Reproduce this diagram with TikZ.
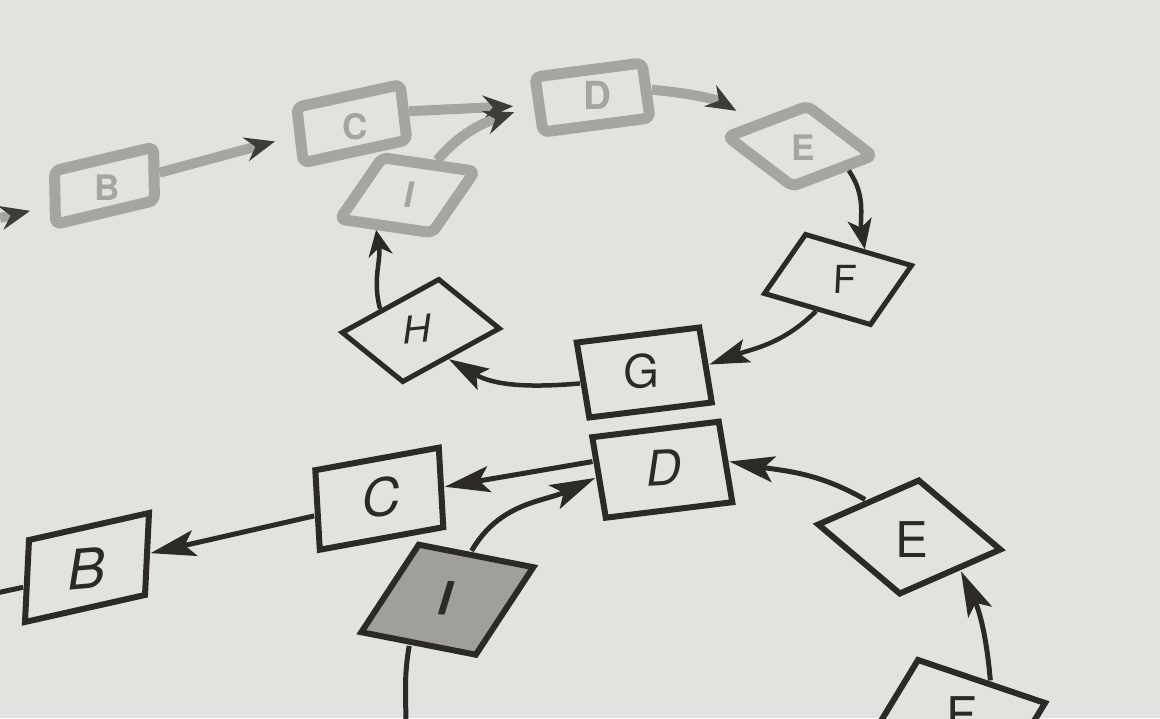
\documentclass[tikz,border=0pt]{standalone}
\usepackage{fontspec}
\setsansfont{TeX Gyre Heros}
\usetikzlibrary{arrows.meta}
\definecolor{paper}{HTML}{E2E3DE}
\definecolor{ink}{HTML}{2B2A26}
\definecolor{shade}{HTML}{A09F99}
\definecolor{haze}{HTML}{A5A6A1}

\begin{document}
\begin{tikzpicture}[x=1mm,y=1mm,
   persp/.style n args={4}{cm={#1,#2,#3,#4,(0,0)}},
   box/.style={draw=ink,line width=.6mm,fill=paper,minimum width=10mm,minimum height=7mm,inner sep=0pt},
   fuzzy/.style={draw=haze,line width=1.1mm,rounded corners=.6mm,minimum width=10mm,minimum height=7mm,inner sep=0pt},
   lbl/.style={text=ink,inner sep=0pt,font=\sffamily\fontsize{#1}{#1}\selectfont},
   boldlbl/.style={text=ink,inner sep=0pt,font=\sffamily\bfseries\fontsize{#1}{#1}\selectfont},
   fuzzylbl/.style={text=haze,inner sep=0pt,font=\sffamily\bfseries\fontsize{#1}{#1}\selectfont},
   witharrow/.style={draw=ink,line width=.5mm,-{Stealth[length=4.5mm,width=2.6mm,inset=1mm]}},
   smallarrow/.style={draw=ink,line width=.45mm,-{Stealth[length=#1,width=2.4mm,inset=.8mm]}},
   fuzzyarrow/.style={draw=haze,line width=1mm,shorten >=2mm,-{Stealth[length=3mm,width=2.4mm,color=ink!85!haze]}},
   link/.style={draw=ink,line width=.5mm}
  ]
\useasboundingbox (0,0) rectangle (116,71.8);
\fill[paper] (0,0) rectangle (116,71.8);
\clip (0,0) rectangle (116,71.8);

% lower ring
\node[box, persp={1.2}{.27}{.057}{1.171}] (B) at (8.7,15.05) {};
\node[box, persp={1.235}{.225}{-.064}{1.136}] (C) at (37.93,21.93) {};
\node[box, persp={1.265}{.155}{-.193}{1.15}] (D) at (66.23,24.83) {};
\node[box, fill=shade, persp={1.145}{-.225}{.821}{1.25}] (I) at (44.73,11.83) {};
\node[box, persp={1.005}{.44}{-1.164}{.986}] (E) at (90.93,18.1) {};
\node[box, persp={1.27}{-.43}{.686}{1.129}] (Fl) at (95.75,-.3) {};
\coordinate (Bout) at (-1,12.36);
\coordinate (Iout) at (40.6,-1);

% upper ring
\node[box, persp={1.225}{.15}{-.179}{1.071}] (G) at (64.43,34.55) {};
\node[box, line width=.5mm, persp={.965}{.53}{-.864}{.7}] (H) at (42.08,38.75) {};
\node[box, line width=.5mm, persp={1.06}{-.31}{.586}{.843}] (Fu) at (83.8,43.85) {};
\node[fuzzy, persp={.8}{.305}{-.929}{.707}] (Eu) at (80,57.18) {};
\node[fuzzy, persp={1.07}{.14}{-.114}{.786}] (Du) at (59.25,62.05) {};
\node[fuzzy, persp={1.035}{.225}{-.093}{.793}] (Cu) at (35.18,59.43) {};
\node[fuzzy, persp={.99}{.235}{-.014}{.764}] (Bu) at (10.45,53.23) {};
\node[fuzzy, persp={.925}{-.135}{.607}{.879}] (Iu) at (40.73,52.28) {};
\coordinate (Bin) at (0,50);

\draw[witharrow] (D.165) -- (C.east);
\draw[witharrow] (C.185) -- (B.east);
\draw[link] (B.185) -- (Bout);
\draw[witharrow] (I.99) to[out=60,in=205] (D.west);
\draw[witharrow] (E.north) to[out=150,in=350] (D.east);
\draw[witharrow] (Fl.82) to[out=95,in=-65] (E.281);
\draw[link] (I.261) to[out=260,in=90] (Iout);

\draw[smallarrow=4mm] (Fu.south) to[out=225,in=20] (G.east);
\draw[smallarrow=4mm] (G.183) to[out=185,in=-30] (H.263);
\draw[smallarrow=2.6mm] (H.103) to[out=105,in=-80] (Iu.260);
\draw[smallarrow=3mm] (Eu.289) to[out=-55,in=100] (Fu.83);

\draw[fuzzyarrow] (Bin) -- (Bu.190);
\draw[fuzzyarrow] (Bu.east) -- (Cu.west);
\draw[fuzzyarrow] (Cu.east) -- (Du.west);
\draw[fuzzyarrow] (Iu.82) to[out=50,in=200] (Du.west);
\draw[fuzzyarrow] (Du.east) to[out=-5,in=150] (Eu.105);

% letters
\node[lbl=16, xslant=.25, rotate=5] (tB) at (8.8,15) {B};
\node[lbl=15, xslant=.2, rotate=4] (tC) at (38.2,22.1) {C};
\node[lbl=14, xslant=.2, rotate=3] (tD) at (66.5,25.05) {D};
\node[boldlbl=13, xslant=.25, rotate=-3] (tI) at (44.7,12) {I};
\node[lbl=14] (tE) at (91.2,17.8) {E};
\node[lbl=14] (tFl) at (96.2,.3) {F};
\node[lbl=13, xslant=.05, rotate=2] (tG) at (64.15,34.7) {G};
\node[lbl=11, xslant=.25, rotate=6] (tH) at (41.8,38.85) {H};
\node[lbl=11, xslant=.05] (tFu) at (84.5,43.9) {F};
\node[fuzzylbl=10] (tEu) at (80.3,57) {E};
\node[fuzzylbl=11] (tDu) at (59.7,62.3) {D};
\node[fuzzylbl=10] (tCu) at (35.5,59.1) {C};
\node[fuzzylbl=10] (tBu) at (10.7,53) {B};
\node[fuzzylbl=10, xslant=.2] (tIu) at (41,52.3) {I};
\end{tikzpicture}
\end{document}
